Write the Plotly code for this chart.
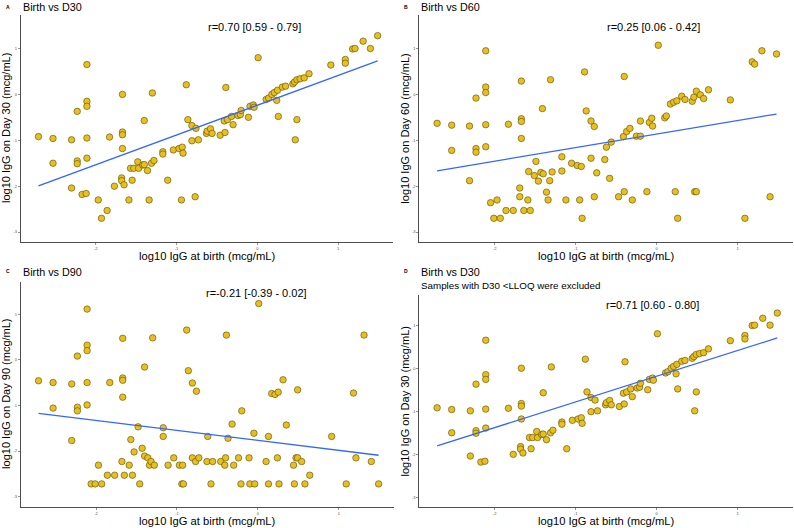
import numpy as np
import plotly.graph_objects as go

# ---------------- data (log10 IgG, mcg/mL) ----------------
birth_A = [-2.71, -2.53, -2.53, -2.30, -2.30, -2.23, -2.23, -2.23, -2.17, -2.12,
           -2.11, -2.11, -2.11, -2.11, -2.11, -1.97, -1.93, -1.86, -1.83, -1.77,
           -1.68, -1.68, -1.67, -1.67, -1.67, -1.67, -1.65, -1.59, -1.57, -1.55,
           -1.53, -1.48, -1.47, -1.42, -1.40, -1.40, -1.36, -1.34, -1.31, -1.30,
           -1.28, -1.17, -1.17, -1.11, -1.04, -0.97, -0.94, -0.93, -0.92, -0.88,
           -0.86, -0.81, -0.81, -0.77, -0.76, -0.73, -0.63, -0.62, -0.58, -0.56,
           -0.46, -0.41, -0.40, -0.39, -0.37, -0.32, -0.30, -0.24, -0.21, -0.20,
           -0.11, -0.09, -0.05, -0.04, 0.01, 0.11, 0.14, 0.18, 0.21, 0.24,
           0.25, 0.26, 0.31, 0.35, 0.44, 0.46, 0.47, 0.49, 0.49, 0.53,
           0.58, 0.64, 0.91, 1.09, 1.09, 1.18, 1.21, 1.31, 1.40, 1.49]
d30_A = [-0.92, -0.96, -1.50, -0.99, -2.04, -0.37, -1.45, -1.51, -2.18, -2.16,
         0.65, -0.15, -0.26, -0.95, -1.39, -2.30, -2.70, -2.53, -0.93, -2.00,
         -1.82, -1.88, 0.00, -0.82, -0.88, -1.18, -1.97, -2.30, -1.61, -1.87,
         -1.61, -1.47, -1.61, -1.54, -0.57, -1.53, -1.66, -2.30, -1.50, 0.03,
         -1.44, -1.25, -1.30, -1.87, -1.21, -1.18, -2.30, -1.15, -1.28, 0.21,
         -0.55, -1.01, -0.68, -2.23, -0.74, -0.99, -0.85, -0.80, -0.75, -0.85,
         -0.89, -0.58, -0.83, 0.15, -0.55, -0.48, -0.66, -0.46, -0.44, -0.35,
         -0.50, -0.26, -0.23, -0.28, 0.80, -0.11, -0.08, 0.00, 0.04, -0.13,
         0.09, -0.48, 0.16, 0.18, 0.23, 0.27, -0.99, -0.55, 0.32, 0.34,
         0.36, 0.45, 0.64, 0.76, 0.68, 0.99, 1.00, 1.16, 1.00, 1.28]

birth_B = [-2.71, -2.53, -2.53, -2.31, -2.31, -2.23, -2.23, -2.23, -2.11, -2.11,
           -2.11, -2.11, -2.11, -2.05, -2.01, -1.97, -1.93, -1.86, -1.83, -1.77,
           -1.69, -1.69, -1.67, -1.67, -1.67, -1.67, -1.64, -1.59, -1.58, -1.56,
           -1.51, -1.49, -1.46, -1.43, -1.41, -1.40, -1.36, -1.34, -1.32, -1.31,
           -1.29, -1.17, -1.17, -1.12, -1.05, -0.98, -0.95, -0.93, -0.92, -0.89,
           -0.87, -0.81, -0.81, -0.77, -0.77, -0.74, -0.64, -0.62, -0.58, -0.56,
           -0.47, -0.41, -0.40, -0.40, -0.37, -0.33, -0.30, -0.25, -0.20, -0.20,
           -0.12, -0.09, -0.06, -0.05, 0.02, 0.10, 0.12, 0.17, 0.21, 0.23,
           0.25, 0.26, 0.31, 0.35, 0.44, 0.46, 0.47, 0.49, 0.49, 0.54,
           0.58, 0.64, 0.91, 1.09, 1.18, 1.21, 1.30, 1.40, 1.48]
d60_B = [-0.63, -0.67, -1.22, -0.69, -1.88, -0.08, -1.18, -1.26, 0.95, 0.16,
         0.04, -0.66, -1.14, -2.36, -2.70, -2.30, -2.70, -2.53, -0.65, -2.53,
         -2.04, -2.23, 0.29, -0.53, -0.59, -0.96, -2.53, -2.30, -1.68, -2.53,
         -1.77, -1.46, -1.89, -1.70, -0.31, -1.73, -2.13, -2.30, -1.88, 0.32,
         -1.69, -1.36, -1.67, -2.30, -1.50, -1.55, -2.30, -1.57, -2.70, 0.49,
         -0.36, -0.58, -1.39, -2.23, -0.70, -1.71, -1.42, -1.15, -1.83, -1.04,
         -2.23, -0.92, -2.12, 0.39, -0.81, -0.74, -2.30, -0.91, -0.91, -0.58,
         -2.12, -0.61, -0.52, -0.69, 1.07, -0.51, -0.47, -0.21, -0.17, -2.12,
         -0.14, -2.70, -0.04, -0.11, -0.15, -0.06, -2.12, -2.12, 0.07, -0.01,
         -0.09, 0.10, -0.12, -2.70, 0.71, 0.66, 0.95, -2.23, 0.88]

birth_C = [-2.71, -2.53, -2.53, -2.30, -2.30, -2.23, -2.23, -2.23, -2.11, -2.11,
           -2.11, -2.11, -2.11, -2.06, -2.01, -1.97, -1.93, -1.86, -1.83, -1.77,
           -1.68, -1.67, -1.67, -1.67, -1.67, -1.65, -1.59, -1.57, -1.55, -1.53,
           -1.48, -1.46, -1.43, -1.40, -1.40, -1.36, -1.34, -1.32, -1.30, -1.28,
           -1.17, -1.17, -1.11, -1.04, -0.97, -0.94, -0.93, -0.92, -0.88, -0.86,
           -0.81, -0.81, -0.77, -0.76, -0.73, -0.63, -0.62, -0.58, -0.56, -0.46,
           -0.41, -0.40, -0.39, -0.37, -0.32, -0.30, -0.24, -0.21, -0.20, -0.11,
           -0.10, -0.05, -0.04, 0.01, 0.10, 0.13, 0.13, 0.17, 0.21, 0.24,
           0.25, 0.26, 0.31, 0.35, 0.44, 0.45, 0.47, 0.49, 0.49, 0.54,
           0.58, 0.64, 0.91, 1.09, 1.18, 1.21, 1.31, 1.40, 1.49]
d90_C = [-0.46, -0.50, -1.06, -0.53, -1.77, 0.08, -1.04, -1.12, 1.11, 0.32,
         0.20, -0.50, -0.99, -2.72, -2.72, -2.31, -2.72, -2.53, -0.50, -2.53,
         -2.23, 0.47, -0.40, -0.45, -0.82, -2.53, -2.31, -1.75, -2.53, -2.02,
         -1.47, -2.72, -1.94, -0.16, -2.11, -2.15, -2.31, -2.23, 0.48, -2.31,
         -1.49, -1.68, -2.31, -2.15, -2.31, -2.72, -2.31, -2.72, 0.65, -0.24,
         -2.15, -0.51, -2.23, -0.69, -2.15, -2.23, -1.68, -2.72, -2.23, -2.23,
         -2.31, -2.15, 0.54, -1.72, -1.41, -2.31, -2.15, -2.72, -1.12, -2.15,
         -2.72, -1.61, -2.72, 1.23, -2.23, -1.68, -2.72, -0.74, -0.76, -2.15,
         -0.71, -2.72, -0.44, -1.43, -2.31, -2.72, -2.15, -2.15, -0.66, -2.23,
         -2.72, -2.53, -1.68, -2.72, -0.73, -2.15, 0.54, -2.23, -2.72]

D30_LLOQ = -2.2   # panel D: samples with D30 below LLOQ excluded

titles = ["Birth vs D30", "Birth vs D60", "Birth vs D90", "Birth vs D30"]
letters = ["A", "B", "C", "D"]
subtitle_D = "Samples with D30 <LLOQ were excluded"
r_texts = ["r=0.70 [0.59 - 0.79]", "r=0.25 [0.06 - 0.42]",
           "r=-0.21 [-0.39 - 0.02]", "r=0.71 [0.60 - 0.80]"]
y_titles = ["log10 IgG on Day 30 (mcg/mL)", "log10 IgG on Day 60 (mcg/mL)",
            "log10 IgG on Day 90 (mcg/mL)", "log10 IgG on Day 30 (mcg/mL)"]
x_title = "log10 IgG at birth (mcg/mL)"
tick_vals = [-3, -2, -1, 0, 1]

# ---------------- build ----------------
bA = np.array(birth_A); yA = np.array(d30_A)
mask = yA > D30_LLOQ
panels = [
    (bA, yA),
    (np.array(birth_B), np.array(d60_B)),
    (np.array(birth_C), np.array(d90_C)),
    (bA[mask], yA[mask]),
]

W, H = 794, 528
# pixel boxes (left, right, top, bottom)
boxes = [(20.7, 393, 15, 241.7), (419.3, 792.7, 15, 241.7),
         (20.7, 394, 281.7, 506.7), (419.3, 792.7, 295, 507.3)]
yranges = [[-3.21, 1.73], [-3.21, 1.73], [-3.22, 1.71], [-3.23, 1.70]]
xrange_ = [-2.93, 1.68]

FILL = "#E8C01E"
EDGE = "#5b4a06"
LINE = "#3366FF"
AX = "#4d4d4d"
FONT = "Liberation Sans, Arial, sans-serif"

fig = go.Figure()
layout = dict(width=W, height=H, margin=dict(l=0, r=0, t=0, b=0),
              paper_bgcolor="white", plot_bgcolor="white", showlegend=False,
              font=dict(family=FONT, color="black"))
annotations = []

for i, ((x, y), (l, r, t, b)) in enumerate(zip(panels, boxes)):
    k = "" if i == 0 else str(i + 1)
    xa, ya = "x" + k, "y" + k
    fig.add_trace(go.Scatter(x=x, y=y, mode="markers", xaxis=xa, yaxis=ya,
                             marker=dict(size=6.5, color=FILL,
                                         line=dict(color=EDGE, width=0.6)),
                             hoverinfo="skip"))
    slope, icpt = np.polyfit(x, y, 1)
    xs = np.array([x.min(), x.max()])
    fig.add_trace(go.Scatter(x=xs, y=slope * xs + icpt, mode="lines",
                             xaxis=xa, yaxis=ya,
                             line=dict(color=LINE, width=1.3), hoverinfo="skip"))
    axcommon = dict(showline=True, linecolor=AX, linewidth=1, showgrid=False,
                    zeroline=False, ticks="outside", ticklen=2, tickwidth=0.6,
                    tickcolor=AX, tickfont=dict(size=4, color=AX, family=FONT),
                    tickvals=tick_vals, ticktext=[str(v) for v in tick_vals])
    layout["xaxis" + k] = dict(axcommon, domain=[l / W, r / W], range=xrange_,
                               anchor=ya)
    layout["yaxis" + k] = dict(axcommon, domain=[1 - b / H, 1 - t / H],
                               range=yranges[i], anchor=xa)
    cx = (l + r) / 2
    # x title
    annotations.append(dict(text=x_title, x=cx / W, y=1 - (b + 14) / H,
                            xref="paper", yref="paper", showarrow=False,
                            font=dict(size=11.2), xanchor="center", yanchor="middle"))
    # y title
    annotations.append(dict(text=y_titles[i], x=(l - 14) / W, y=1 - ((t + b) / 2) / H,
                            xref="paper", yref="paper", showarrow=False, textangle=-90,
                            font=dict(size=11), xanchor="center", yanchor="middle"))
    # panel title
    ty = 7.5 if i < 2 else 272
    annotations.append(dict(text=titles[i], x=l / W, y=1 - ty / H, xref="paper",
                            yref="paper", showarrow=False, font=dict(size=10.8),
                            xanchor="left", yanchor="middle"))
    annotations.append(dict(text="<b>" + letters[i] + "</b>", x=(l - 17) / W,
                            y=1 - (ty - 1) / H, xref="paper", yref="paper",
                            showarrow=False, font=dict(size=5), xanchor="left",
                            yanchor="middle"))
    # r text
    ry = [27, 27, 293, 305][i]
    rx = [254, 653, 256.7, 652][i]
    annotations.append(dict(text=r_texts[i], x=rx / W, y=1 - ry / H, xref="paper",
                            yref="paper", showarrow=False, font=dict(size=11),
                            xanchor="center", yanchor="middle"))

annotations.append(dict(text=subtitle_D, x=419.3 / W, y=1 - 285 / H, xref="paper",
                        yref="paper", showarrow=False, font=dict(size=9.8),
                        xanchor="left", yanchor="middle"))
layout["annotations"] = annotations
fig.update_layout(**layout)
fig.write_html("out.html",
               config={"displayModeBar": False, "staticPlot": True},
               post_script="document.body.style.margin='0';"
                           "document.body.style.overflow='hidden';")
